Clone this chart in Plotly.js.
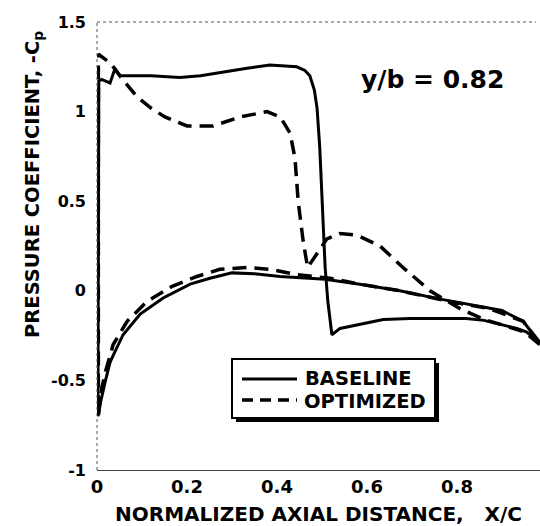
<!DOCTYPE html>
<html>
<head>
<meta charset="utf-8">
<script src="https://cdn.plot.ly/plotly-3.0.1.min.js"></script>
<style>
  html, body { margin: 0; padding: 0; background: #fff; }
  #chart { width: 540px; height: 526px; }
</style>
</head>
<body>
<div id="chart"></div>
<script>
// ---- Data ----
// BASELINE upper surface, leading edge -> trailing edge
const baseUpperX = [0.004, 0.010, 0.029, 0.040, 0.051, 0.080, 0.120, 0.184, 0.230, 0.280, 0.330, 0.384, 0.444, 0.462, 0.473, 0.483, 0.489, 0.495, 0.500, 0.507, 0.513, 0.522, 0.540, 0.578, 0.636, 0.696, 0.750, 0.820, 0.860, 0.900, 0.933, 0.955, 0.984];
const baseUpperY = [1.17, 1.18, 1.16, 1.24, 1.20, 1.20, 1.20, 1.19, 1.20, 1.22, 1.24, 1.26, 1.25, 1.23, 1.20, 1.12, 1.02, 0.80, 0.50, 0.13, -0.06, -0.245, -0.21, -0.19, -0.16, -0.155, -0.155, -0.155, -0.165, -0.19, -0.21, -0.23, -0.29];
// BASELINE lower surface, leading edge -> trailing edge
const baseLowerX = [0.002, 0.008, 0.018, 0.029, 0.036, 0.058, 0.096, 0.147, 0.207, 0.251, 0.300, 0.350, 0.407, 0.507, 0.584, 0.673, 0.760, 0.840, 0.900, 0.947, 0.984];
const baseLowerY = [-0.70, -0.62, -0.51, -0.40, -0.36, -0.245, -0.13, -0.04, 0.037, 0.07, 0.10, 0.095, 0.08, 0.065, 0.037, 0.0, -0.045, -0.08, -0.11, -0.17, -0.29];
// OPTIMIZED upper surface
const optUpperX = [0.003, 0.030, 0.060, 0.090, 0.120, 0.151, 0.200, 0.258, 0.318, 0.378, 0.407, 0.429, 0.440, 0.447, 0.458, 0.468, 0.489, 0.511, 0.540, 0.578, 0.629, 0.680, 0.740, 0.807, 0.860, 0.900, 0.950, 0.984];
const optUpperY = [1.32, 1.27, 1.17, 1.08, 1.02, 0.97, 0.92, 0.92, 0.97, 1.00, 0.97, 0.88, 0.74, 0.50, 0.28, 0.13, 0.21, 0.29, 0.32, 0.31, 0.25, 0.13, 0.00, -0.10, -0.16, -0.19, -0.23, -0.30];
// OPTIMIZED lower surface
const optLowerX = [0.003, 0.010, 0.020, 0.036, 0.067, 0.111, 0.167, 0.222, 0.273, 0.333, 0.384, 0.444, 0.518, 0.578, 0.673, 0.784, 0.873, 0.947, 0.984];
const optLowerY = [-0.70, -0.55, -0.44, -0.30, -0.17, -0.06, 0.025, 0.08, 0.12, 0.13, 0.12, 0.09, 0.07, 0.04, 0.0, -0.06, -0.10, -0.17, -0.29];

const seriesNames = ['BASELINE', 'OPTIMIZED'];
const xTickVals = [0, 0.2, 0.4, 0.6, 0.8];
const xTickText = ['0', '0.2', '0.4', '0.6', '0.8'];
const yTickVals = [-1, -0.5, 0, 0.5, 1, 1.5];
const yTickText = ['-1', '-0.5', '0', '0.5', '1', '1.5'];
const caseLabel = 'y/b = 0.82';
const xTitle = 'NORMALIZED AXIAL DISTANCE,\u00a0\u00a0\u00a0X/C\u00a0\u00a0';
const yTitle = 'PRESSURE COEFFICIENT, -C<sub>p</sub>';

// closed contour: upper (TE->LE) then lower (LE->TE)
function loop(ux, uy, lx, ly) {
  return {
    x: ux.slice().reverse().concat(lx),
    y: uy.slice().reverse().concat(ly)
  };
}
const base = loop(baseUpperX, baseUpperY, baseLowerX, baseLowerY);
const opt = loop(optUpperX, optUpperY, optLowerX, optLowerY);

const FONT = 'DejaVu Sans, Arial, sans-serif';

const traces = [
  { x: opt.x, y: opt.y, mode: 'lines', name: seriesNames[1], showlegend: false,
    line: { color: '#000', width: 3.5, dash: '14px,8px' }, hoverinfo: 'skip' },
  { x: base.x, y: base.y, mode: 'lines', name: seriesNames[0], showlegend: false,
    line: { color: '#000', width: 3 }, hoverinfo: 'skip' }
];

// pixel -> paper helpers (plot area: x 97..540, y 22..470)
const L = 97, R = 540, T = 22, B = 470;
const px = v => (v - L) / (R - L);
const py = v => (B - v) / (B - T);

const shapes = [
  // dotted left axis and top frame
  { type: 'line', xref: 'paper', yref: 'paper', x0: 0, x1: 0, y0: 0, y1: 1, line: { color: '#555', width: 1, dash: 'dot' } },
  { type: 'line', xref: 'paper', yref: 'paper', x0: 0, x1: px(536), y0: 1, y1: 1, line: { color: '#555', width: 1, dash: 'dot' } },
  // legend shadow and box
  { type: 'rect', xref: 'paper', yref: 'paper', x0: px(236), x1: px(439), y0: py(422), y1: py(363), fillcolor: '#000', line: { width: 0 } },
  { type: 'rect', xref: 'paper', yref: 'paper', x0: px(232), x1: px(435), y0: py(418), y1: py(359), fillcolor: '#fff', line: { color: '#000', width: 2 } },
  // legend samples
  { type: 'line', xref: 'paper', yref: 'paper', x0: px(242), x1: px(297), y0: py(379), y1: py(379), line: { color: '#000', width: 3 } },
  { type: 'line', xref: 'paper', yref: 'paper', x0: px(242), x1: px(297), y0: py(400), y1: py(400), line: { color: '#000', width: 3.5, dash: '11px,7px' } }
];

const annotations = [
  { xref: 'paper', yref: 'paper', x: px(359), y: py(79), xanchor: 'left', yanchor: 'middle', showarrow: false,
    text: caseLabel, font: { family: FONT, size: 25, weight: 'bold', color: '#000' } },
  { xref: 'paper', yref: 'paper', x: px(303), y: py(378), xanchor: 'left', yanchor: 'middle', showarrow: false,
    text: seriesNames[0], font: { family: FONT, size: 19.5, weight: 'bold', color: '#000' } },
  { xref: 'paper', yref: 'paper', x: px(302), y: py(401), xanchor: 'left', yanchor: 'middle', showarrow: false,
    text: seriesNames[1], font: { family: FONT, size: 19.5, weight: 'bold', color: '#000' } },
  { xref: 'paper', yref: 'paper', x: px(33), y: py(185), xanchor: 'center', yanchor: 'middle', showarrow: false,
    textangle: -90, text: yTitle, font: { family: FONT, size: 19.5, weight: 'bold', color: '#000' } }
];

const layout = {
  width: 540, height: 526,
  margin: { l: L, r: 540 - R, t: T, b: 526 - B },
  paper_bgcolor: '#fff', plot_bgcolor: '#fff',
  showlegend: false,
  xaxis: {
    range: [0, (R - L) / 450], showgrid: false, zeroline: false,
    showline: true, linecolor: '#444', linewidth: 1, ticks: '',
    tickvals: xTickVals, ticktext: xTickText, ticklabelstandoff: 0,
    tickfont: { family: FONT, size: 18, weight: 'bold', color: '#000' },
    title: { text: xTitle, standoff: 12, font: { family: FONT, size: 20, weight: 'bold', color: '#000' } },
    automargin: false
  },
  yaxis: {
    range: [-1, 1.5], showgrid: false, zeroline: false, showline: false, ticks: '',
    tickvals: yTickVals, ticktext: yTickText, ticklabelstandoff: 10,
    tickfont: { family: FONT, size: 16, weight: 'bold', color: '#000' },
    automargin: false
  },
  shapes: shapes,
  annotations: annotations
};

Plotly.newPlot('chart', traces, layout, { displayModeBar: false, staticPlot: true });
</script>
</body>
</html>
